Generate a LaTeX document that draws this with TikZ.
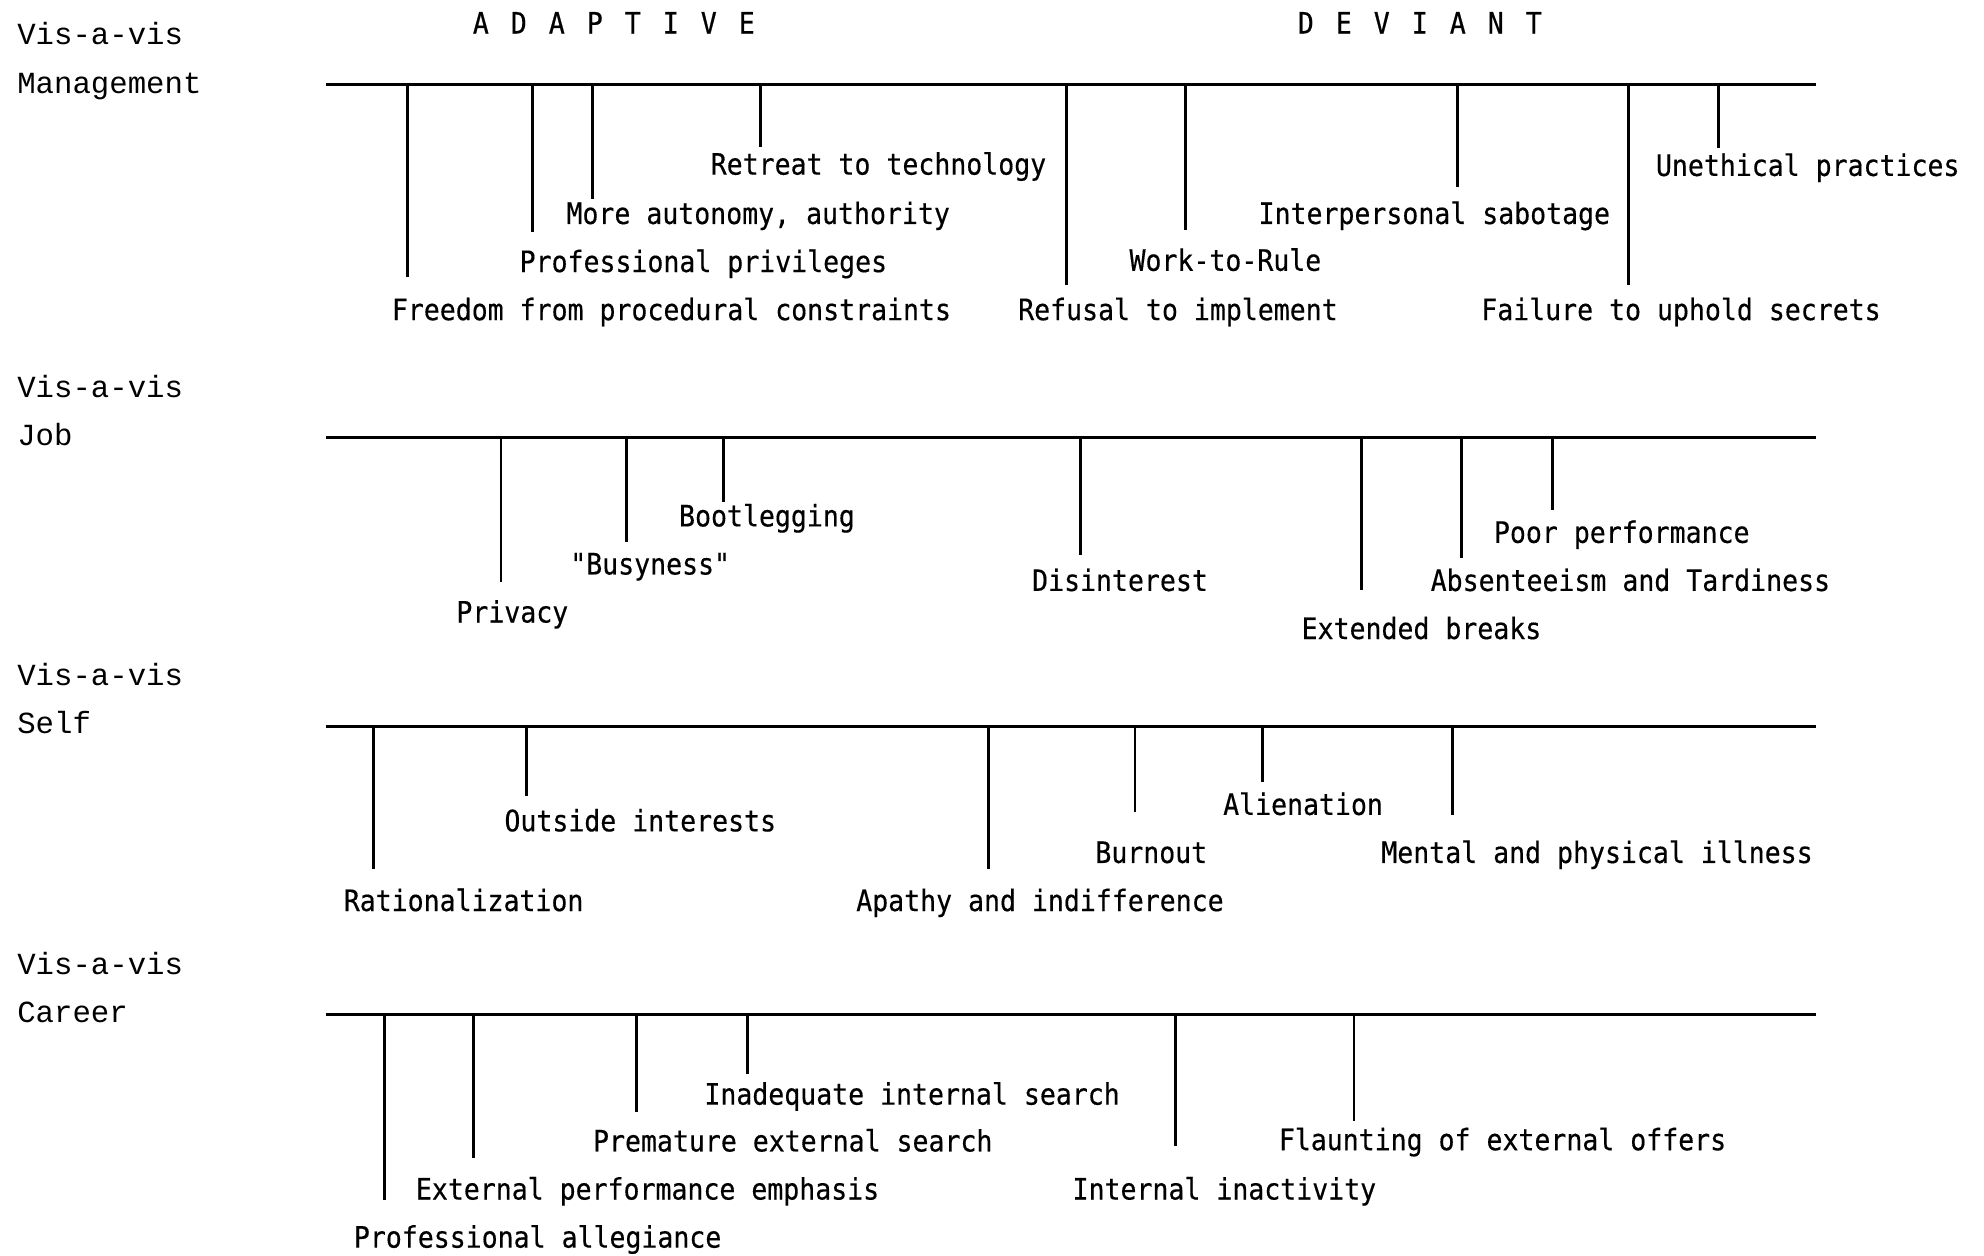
\documentclass[tikz,border=0pt]{standalone}
\usepackage{fontspec}
\usepackage{tikz}
\usetikzlibrary{positioning}

\newfontfamily\lblfamily[FakeStretch=0.9,FakeBold=0.4]{DejaVu Sans Mono}
\newfontfamily\headfamily[FakeStretch=0.9,FakeBold=0.6,LetterSpace=20.5]{DejaVu Sans Mono}
\newfontfamily\sidefamily{Liberation Mono}
\newcommand{\lblfont}{\lblfamily\fontsize{6.63pt}{7pt}\selectfont}
\newcommand{\headfont}{\headfamily\fontsize{6.63pt}{7pt}\selectfont}
\newcommand{\sidefont}{\sidefamily\fontsize{6.9pt}{8pt}\selectfont}

\tikzset{
	lbl/.style={inner sep=0pt, anchor=base west, font=\lblfont},
	side/.style={inner sep=0pt, anchor=base west, font=\sidefont},
	head/.style={inner sep=0pt, anchor=base west, font=\headfont},
	axis/.style={line width=0.7pt},
	tick/.style={line width=0.6pt}
}

\begin{document}
\begin{tikzpicture}
					\useasboundingbox (0,0) rectangle (15.68,-9.92);
					
					\node[head] (AD) at (3.73,-0.265) {A D A P T I V E};
					\node[head] (DE) at (10.25,-0.265) {D E V I A N T};
					
					\node[side] (V1) at (0.13,-0.355) {Vis-a-vis};
					\node[side] (S1) at (0.13,-0.74) {Management};
					\node[side] (V2) at (0.13,-3.14) {Vis-a-vis};
					\node[side] (S2) at (0.13,-3.52) {Job};
					\node[side] (V3) at (0.13,-5.42) {Vis-a-vis};
					\node[side] (S3) at (0.13,-5.80) {Self};
					\node[side] (V4) at (0.13,-7.70) {Vis-a-vis};
					\node[side] (S4) at (0.13,-8.08) {Career};
					
					\coordinate (M0) at (2.58,-0.67);
					\coordinate (M) at (14.35,-0.67);
					\coordinate (J0) at (2.58,-3.46);
					\coordinate (J) at (14.35,-3.46);
					\coordinate (S0) at (2.58,-5.74);
					\coordinate (S) at (14.35,-5.74);
					\coordinate (C0) at (2.58,-8.02);
					\coordinate (C) at (14.35,-8.02);
					
					\draw[axis] (M0) -- (M);
					\draw[axis] (J0) -- (J);
					\draw[axis] (S0) -- (S);
					\draw[axis] (C0) -- (C);
					
					\coordinate (m1) at (3.22,-2.19);
					\coordinate (m2) at (4.21,-1.83);
					\coordinate (m3) at (4.68,-1.57);
					\coordinate (m4) at (6.01,-1.16);
					\coordinate (m5) at (8.43,-2.25);
					\coordinate (m6) at (9.37,-1.82);
					\coordinate (m7) at (11.52,-1.48);
					\coordinate (m8) at (12.87,-2.25);
					\coordinate (m9) at (13.58,-1.17);
					
					\coordinate (j1) at (3.96,-4.60);
					\coordinate (j2) at (4.95,-4.28);
					\coordinate (j3) at (5.72,-3.97);
					\coordinate (j4) at (8.54,-4.39);
					\coordinate (j5) at (10.76,-4.66);
					\coordinate (j6) at (11.55,-4.41);
					\coordinate (j7) at (12.27,-4.03);
					
					\coordinate (s1) at (2.95,-6.87);
					\coordinate (s2) at (4.16,-6.29);
					\coordinate (s3) at (7.81,-6.87);
					\coordinate (s4) at (8.97,-6.42);
					\coordinate (s5) at (9.98,-6.18);
					\coordinate (s6) at (11.48,-6.44);
					
					\coordinate (c1) at (3.04,-9.48);
					\coordinate (c2) at (3.74,-9.15);
					\coordinate (c3) at (5.03,-8.79);
					\coordinate (c4) at (5.91,-8.49);
					\coordinate (c5) at (9.29,-9.06);
					\coordinate (c6) at (10.70,-8.86);
					
					\foreach \t in {m1,m2,m3,m4,m5,m6,m7,m8,m9}
						\draw[tick] (\t |- M) -- (\t);
					\foreach \t in {j1,j2,j3,j4,j5,j6,j7}
						\draw[tick] (\t |- J) -- (\t);
					\foreach \t in {s1,s2,s3,s4,s5,s6}
						\draw[tick] (\t |- S) -- (\t);
					\foreach \t in {c1,c2,c3,c4,c5,c6}
						\draw[tick] (\t |- C) -- (\t);
					
					\node[lbl] (tech) at (5.61,-1.38) {Retreat to technology};
					\node[lbl] (auto) at (4.47,-1.77) {More autonomy, authority};
					\node[lbl] (priv) at (4.10,-2.15) {Professional privileges};
					\node[lbl] (free) at (3.09,-2.53) {Freedom from procedural constraints};
					\node[lbl] (refu) at (8.04,-2.53) {Refusal to implement};
					\node[lbl] (work) at (8.92,-2.14) {Work-to-Rule};
					\node[lbl] (sabo) at (9.94,-1.77) {Interpersonal sabotage};
					\node[lbl] (secr) at (11.70,-2.53) {Failure to uphold secrets};
					\node[lbl] (ethi) at (13.08,-1.39) {Unethical practices};
					
					\node[lbl] (boot) at (5.36,-4.16) {Bootlegging};
					\node[lbl] (busy) at (4.50,-4.54) {"Busyness"};
					\node[lbl] (pvcy) at (3.60,-4.92) {Privacy};
					\node[lbl] (disi) at (8.15,-4.67) {Disinterest};
					\node[lbl] (poor) at (11.80,-4.29) {Poor performance};
					\node[lbl] (abse) at (11.30,-4.67) {Absenteeism and Tardiness};
					\node[lbl] (brk) at (10.28,-5.05) {Extended breaks};
					
					\node[lbl] (outs) at (3.98,-6.57) {Outside interests};
					\node[lbl] (rati) at (2.71,-7.20) {Rationalization};
					\node[lbl] (apat) at (6.76,-7.20) {Apathy and indifference};
					\node[lbl] (burn) at (8.65,-6.82) {Burnout};
					\node[lbl] (alie) at (9.66,-6.44) {Alienation};
					\node[lbl] (ment) at (10.91,-6.82) {Mental and physical illness};
					
					\node[lbl] (inad) at (5.56,-8.73) {Inadequate internal search};
					\node[lbl] (prem) at (4.68,-9.10) {Premature external search};
					\node[lbl] (extp) at (3.28,-9.48) {External performance emphasis};
					\node[lbl] (alle) at (2.79,-9.86) {Professional allegiance};
					\node[lbl] (inac) at (8.47,-9.48) {Internal inactivity};
					\node[lbl] (flau) at (10.10,-9.09) {Flaunting of external offers};
				
	\end{tikzpicture}
\end{document}
